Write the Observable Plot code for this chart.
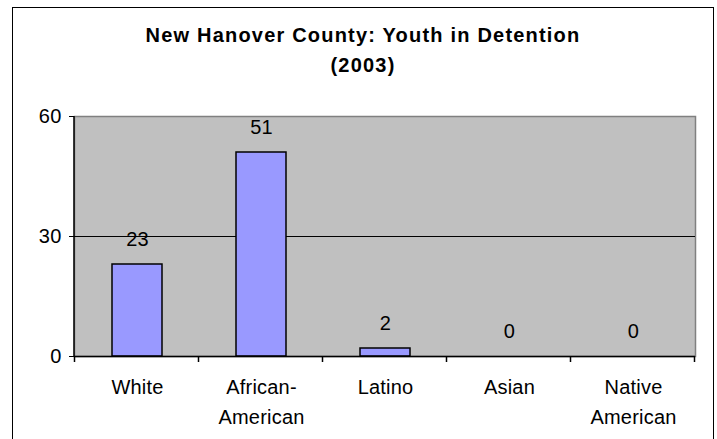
<!DOCTYPE html>
<html>
<head>
<meta charset="utf-8">
<script src="https://cdn.jsdelivr.net/npm/d3@7"></script>
<script src="https://cdn.jsdelivr.net/npm/@observablehq/plot@0.6"></script>
<style>
  body { margin: 0; background: #fff; font-family: "Liberation Sans", Arial, sans-serif; color: #000; }
  #wrap { position: relative; width: 717px; height: 439px; overflow: hidden; background: #fff; }
  #border { position: absolute; left: 12px; top: 7px; width: 702px; height: 460px; border: 1px solid #000; box-sizing: border-box; }
  #title { position: absolute; left: 12px; top: 20px; width: 702px; text-align: center; font-weight: bold; font-size: 20px; line-height: 30px; letter-spacing: 1.2px; }
  #chart { position: absolute; left: 0; top: 100px; }
  #chart svg text { letter-spacing: 0.2px; }
</style>
</head>
<body>
<div id="wrap">
  <div id="border"></div>
  <div id="title"><div>New Hanover County: Youth in Detention</div><div>(2003)</div></div>
  <div id="chart"></div>
</div>
<script>
const categories = ["White", "African-\nAmerican", "Latino", "Asian", "Native\nAmerican"];
const values = [23, 51, 2, 0, 0];
const yTicks = [0, 30, 60];
const gridValues = [30];

const data = categories.map((c, i) => ({category: c, value: values[i]}));

const decor = (index, scales, values, dims) => {
  const x = scales.x;
  const step = x(categories[1]) - x(categories[0]);
  const g = d3.create("svg:g");
  const x0 = dims.marginLeft;
  const yb = dims.height - dims.marginBottom;
  // category boundary ticks
  for (let i = 0; i <= categories.length; i++) {
    const xx = Math.round(x0 + i * step) + 0.5;
    g.append("line").attr("x1", xx).attr("x2", xx).attr("y1", yb).attr("y2", yb + 6)
      .attr("stroke", "#000").attr("stroke-width", 1.5);
  }
  // left axis line
  g.append("line").attr("x1", x0).attr("x2", x0).attr("y1", dims.marginTop).attr("y2", yb + 0.5)
    .attr("stroke", "#000").attr("stroke-width", 1.5);
  return g.node();
};

const chart = Plot.plot({
  width: 717,
  height: 339,
  marginTop: 16,
  marginBottom: 83,
  marginLeft: 74,
  marginRight: 22,
  style: {fontFamily: "Liberation Sans, Arial, sans-serif", fontSize: "20px", color: "#000", background: "transparent"},
  x: {domain: categories, paddingInner: 0.6, paddingOuter: 0.3},
  y: {domain: [0, 60], ticks: yTicks},
  marks: [
    Plot.frame({fill: "#c0c0c0", stroke: "#808080", strokeWidth: 1.5}),
    Plot.ruleY(gridValues, {stroke: "#000", strokeWidth: 1}),
    Plot.barY(data, {x: "category", y: "value", fill: "#9999ff", stroke: "#000", strokeWidth: 1.5}),
    Plot.ruleY([0], {stroke: "#000", strokeWidth: 1.5}),
    Plot.text(data, {x: "category", y: "value", text: d => String(d.value), dy: -25, fontSize: 20, fill: "#000"}),
    Plot.axisY({ticks: yTicks, tickSize: 5, tickPadding: 8, fontSize: 20, label: null, stroke: "#000"}),
    Plot.axisX({tickSize: 0, tickPadding: 16, fontSize: 20, lineHeight: 1.5, label: null}),
    decor
  ]
});
document.getElementById("chart").appendChild(chart);
</script>
</body>
</html>
